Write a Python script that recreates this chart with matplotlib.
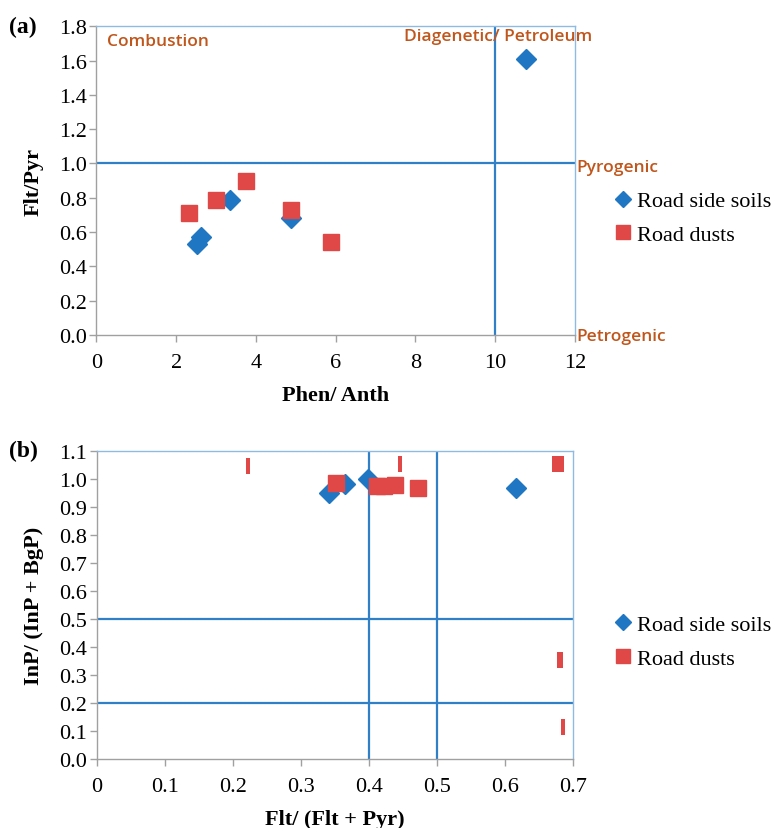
import numpy as np
import matplotlib.pyplot as plt

# panel (a): Phen/Anth vs Flt/Pyr
soil_phen_anth = [10.77, 3.36, 4.87, 2.63, 2.52]
soil_flt_pyr = [1.61, 0.79, 0.68, 0.57, 0.53]
dust_phen_anth = [2.31, 3.00, 3.75, 4.87, 5.88]
dust_flt_pyr = [0.71, 0.79, 0.90, 0.73, 0.54]

# panel (b): Flt/(Flt+Pyr) vs InP/(InP+BgP)
soil_flt_ratio = [0.341, 0.365, 0.398, 0.616]
soil_inp_ratio = [0.948, 0.981, 0.999, 0.968]
dust_flt_ratio = [0.352, 0.412, 0.422, 0.438, 0.472]
dust_inp_ratio = [0.985, 0.973, 0.975, 0.977, 0.968]
# narrow red marks
dust_thin_x = [0.2225, 0.4455, 0.672, 0.678, 0.684, 0.679, 0.683, 0.685]
dust_thin_y = [1.046, 1.052, 1.052, 1.052, 1.052, 0.353, 0.353, 0.113]

BLUE = '#1f77c4'
RED = '#e04848'
LINE = '#2f80c8'
FRAME = '#8fbbe3'
ORANGE = '#c0561b'
SERIF = 'Liberation Serif'
SANS = 'Open Sans'

bar_marker = [(-0.14, -0.5), (0.14, -0.5), (0.14, 0.5), (-0.14, 0.5), (-0.14, -0.5)]

fig = plt.figure(figsize=(7.75, 8.29), dpi=100)
ax1 = fig.add_axes([0.1245, 0.5947, 0.6174, 0.3724])
ax2 = fig.add_axes([0.1252, 0.0832, 0.614, 0.3719])


def style_axes(ax):
    ax.spines['left'].set_color('#a0a0a0')
    ax.spines['bottom'].set_color('#a0a0a0')
    ax.spines['top'].set_color(FRAME)
    ax.spines['right'].set_color(FRAME)
    for s in ax.spines.values():
        s.set_linewidth(1.0)
    ax.tick_params(direction='out', length=5, color='#a0a0a0', width=1,
                   labelsize=16)
    ax.tick_params(axis='y', pad=2)
    ax.tick_params(axis='x', pad=8)
    for lab in ax.get_xticklabels() + ax.get_yticklabels():
        lab.set_fontfamily(SERIF)


# ---- (a)
ax1.axhline(1.0, color=LINE, lw=1.6, zorder=1)
ax1.axvline(10, color=LINE, lw=1.6, zorder=1)
ax1.plot(soil_phen_anth, soil_flt_pyr, 'D', color=BLUE, ms=10, ls='none',
         label='Road side soils', zorder=3)
ax1.plot(dust_phen_anth, dust_flt_pyr, 's', color=RED, ms=12, ls='none',
         label='Road dusts', zorder=4)
ax1.set_xlim(0, 12)
ax1.set_ylim(0, 1.8)
ax1.set_xticks(np.arange(0, 13, 2))
ax1.set_yticks(np.arange(0, 1.81, 0.2))
ax1.set_yticklabels([f'{v:.1f}' for v in np.arange(0, 1.81, 0.2)])
style_axes(ax1)
ax1.set_xlabel('Phen/ Anth', fontfamily=SERIF, fontweight='bold', fontsize=16, labelpad=9)
ax1.set_ylabel('Flt/Pyr', fontfamily=SERIF, fontweight='bold', fontsize=16, labelpad=11)
ax1.text(0.26, 1.716, 'Combustion', color=ORANGE, fontsize=12.5, fontfamily=SANS,
         fontweight='semibold', va='center', ha='left')
ax1.text(10.07, 1.743, 'Diagenetic/ Petroleum', color=ORANGE, fontsize=12.5,
         fontfamily=SANS, fontweight='semibold', va='center', ha='center', clip_on=False)
ax1.text(12.03, 0.98, 'Pyrogenic', color=ORANGE, fontsize=12.5, fontfamily=SANS,
         fontweight='semibold', va='center', ha='left', clip_on=False)
ax1.text(12.03, -0.005, 'Petrogenic', color=ORANGE, fontsize=12.5, fontfamily=SANS,
         fontweight='semibold', va='center', ha='left', clip_on=False)
ax1.legend(loc='center left', bbox_to_anchor=(1.077, 0.379), frameon=False,
           borderaxespad=0, borderpad=0,
           prop={'family': SERIF, 'size': 16}, handletextpad=0.15,
           handlelength=1.0, labelspacing=0.6, markerscale=0.8)
fig.text(0.012, 0.967, '(a)', fontfamily=SERIF, fontweight='bold', fontsize=17, va='center')

# ---- (b)
ax2.axhline(0.5, color=LINE, lw=1.6, zorder=1)
ax2.axhline(0.2, color=LINE, lw=1.6, zorder=1)
ax2.axvline(0.4, color=LINE, lw=1.6, zorder=1)
ax2.axvline(0.5, color=LINE, lw=1.6, zorder=1)
ax2.plot(soil_flt_ratio, soil_inp_ratio, 'D', color=BLUE, ms=10, ls='none',
         label='Road side soils', zorder=3)
ax2.plot(dust_flt_ratio, dust_inp_ratio, 's', color=RED, ms=12, ls='none',
         label='Road dusts', zorder=4)
ax2.plot(dust_thin_x, dust_thin_y, marker=bar_marker, color=RED, ms=12,
         ls='none', mew=0, zorder=4)
ax2.set_xlim(0, 0.7)
ax2.set_ylim(0, 1.1)
ax2.set_xticks(np.arange(0, 0.71, 0.1))
ax2.set_xticklabels(['0'] + [f'{v:.1f}' for v in np.arange(0.1, 0.71, 0.1)])
ax2.set_yticks(np.arange(0, 1.11, 0.1))
ax2.set_yticklabels([f'{v:.1f}' for v in np.arange(0, 1.11, 0.1)])
style_axes(ax2)
ax2.set_xlabel('Flt/ (Flt + Pyr)', fontfamily=SERIF, fontweight='bold', fontsize=16, labelpad=9)
ax2.set_ylabel('InP/ (InP + BgP)', fontfamily=SERIF, fontweight='bold', fontsize=16, labelpad=11)
ax2.legend(loc='center left', bbox_to_anchor=(1.082, 0.381), frameon=False,
           borderaxespad=0, borderpad=0,
           prop={'family': SERIF, 'size': 16}, handletextpad=0.15,
           handlelength=1.0, labelspacing=0.6, markerscale=0.8)
fig.text(0.012, 0.455, '(b)', fontfamily=SERIF, fontweight='bold', fontsize=17, va='center')

fig.savefig('out.png', dpi=100)
